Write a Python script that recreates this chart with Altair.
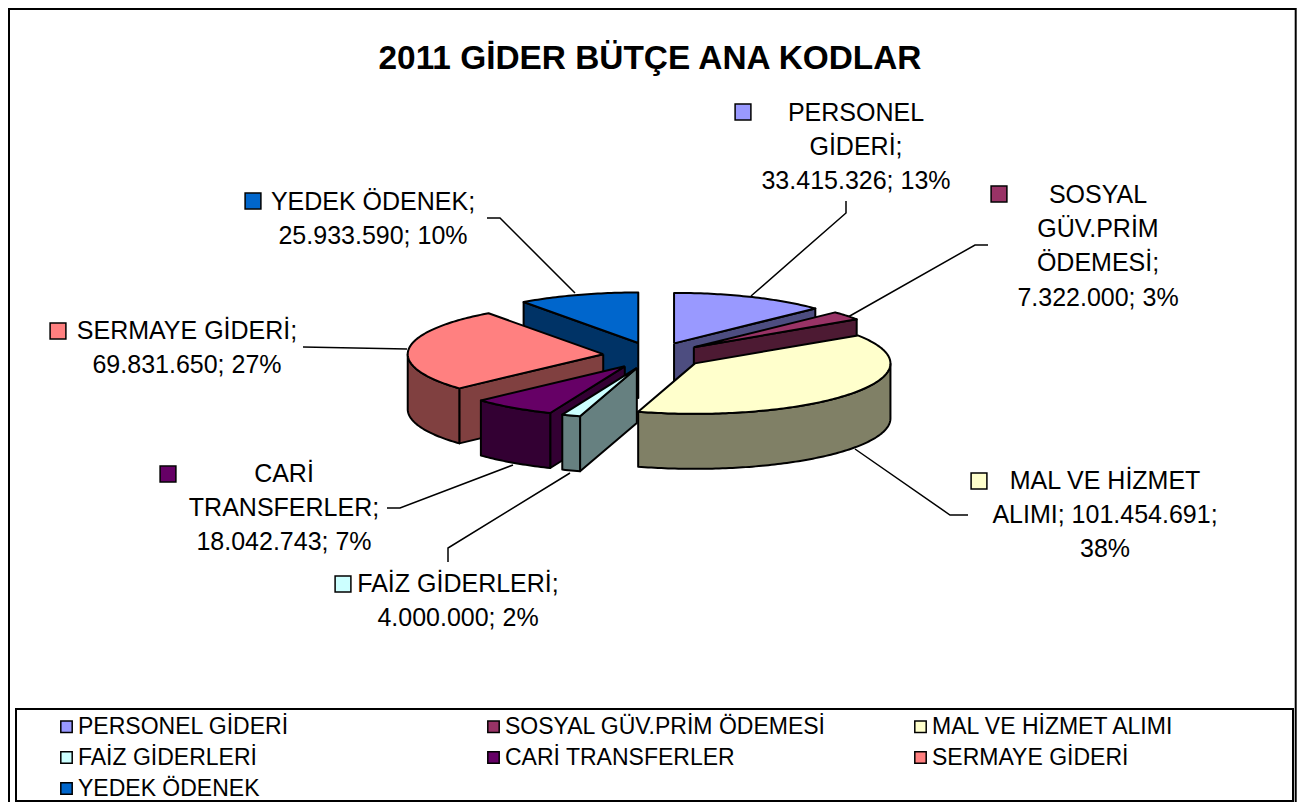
import math
import altair as alt
import pandas as pd

# ---- data -------------------------------------------------------------
names = ["PERSONEL GİDERİ", "SOSYAL GÜV.PRİM ÖDEMESİ", "MAL VE HİZMET ALIMI", "FAİZ GİDERLERİ",
         "CARİ TRANSFERLER", "SERMAYE GİDERİ", "YEDEK ÖDENEK"]
values = [33415326, 7322000, 101454691, 4000000, 18042743, 69831650, 25933590]
top_colors = ["#9999FF", "#993366", "#FFFFCC", "#CCFFFF", "#660066", "#FF8080", "#0066CC"]
side_colors = ["#4D4D80", "#4D1A33", "#808066", "#668080", "#330033", "#804040", "#003366"]
label_lines = [
    ["PERSONEL", "GİDERİ;", "33.415.326; 13%"],
    ["SOSYAL", "GÜV.PRİM", "ÖDEMESİ;", "7.322.000; 3%"],
    ["MAL VE HİZMET", "ALIMI; 101.454.691;", "38%"],
    ["FAİZ GİDERLERİ;", "4.000.000; 2%"],
    ["CARİ", "TRANSFERLER;", "18.042.743; 7%"],
    ["SERMAYE GİDERİ;", "69.831.650; 27%"],
    ["YEDEK ÖDENEK;", "25.933.590; 10%"],
]
title_text = "2011 GİDER BÜTÇE ANA KODLAR"

# ---- layout (reference pixel space) ------------------------------------
W, H = 1289, 794
FONT = "Liberation Sans"
CX, CY, A, B, DEPTH, EXPLODE = 654.0, 355.5, 195.5, 50.5, 55.0, 0.261
paint_order = [6, 0, 1, 5, 4, 3, 2]
label_anchor = [(856, 113), (1098, 195), (1105, 481), (458, 584), (284, 474), (187, 331), (373, 202)]
swatch_pos = [(743, 112), (999, 194), (979, 481), (343, 584), (168, 474), (58, 331), (253, 201)]
line_step = 34.2
leaders = [
    [(751, 296), (846, 213), (846, 201)],
    [(848, 317), (975, 245), (988, 245)],
    [(855, 449), (950, 515), (968, 515)],
    [(570, 473), (448, 548), (448, 562)],
    [(513, 465), (400, 508), (387, 508)],
    [(407, 349), (303, 347)],
    [(575, 293), (500, 218), (487, 218)],
]
frames = [(9, 9, 1295.7, 816), (16, 709, 1293, 801)]

# ---- geometry derived from the values -----------------------------------
total = sum(values)
starts, ang = [], 0.0
for v in values:
    starts.append(ang)
    ang += v / total * 360.0
ends = starts[1:] + [360.0]


def rim(apex, a0, a1):
    n = max(2, int(abs(a1 - a0)) + 1)
    pts = []
    for k in range(n + 1):
        t = math.radians(a0 + (a1 - a0) * k / n)
        pts.append((apex[0] + A * math.sin(t), apex[1] - B * math.cos(t)))
    return pts


rows = []
pid = 0


def add_poly(pts, key, sid):
    global pid
    pts = pts + [pts[0]]
    for s, (x, y) in enumerate(pts):
        rows.append({"poly": f"p{pid:03d}", "seq": s, "x": x, "y": y, "key": key, "kalem": names[sid]})
    pid += 1


for i in paint_order:
    a0, a1 = starts[i], ends[i]
    mid = math.radians((a0 + a1) / 2)
    apex = (CX + A * EXPLODE * math.sin(mid), CY - B * EXPLODE * math.cos(mid))
    side = names[i] + " (yan)"
    # radial wall that faces the viewer
    wall = None
    if math.sin(math.radians(a0)) < -1e-6:
        wall = a0
    elif math.sin(math.radians(a1)) > 1e-6:
        wall = a1
    if wall is not None:
        r = rim(apex, wall, wall)[0]
        add_poly([apex, r, (r[0], r[1] + DEPTH), (apex[0], apex[1] + DEPTH)], side, i)
    # outer wall (front half of the rim)
    f0, f1 = max(a0, 90.0), min(a1, 270.0)
    if f1 > f0:
        edge = rim(apex, f0, f1)
        add_poly(edge + [(x, y + DEPTH) for x, y in reversed(edge)], side, i)
    # top surface
    add_poly([apex] + rim(apex, a0, a1), names[i], i)

poly_df = pd.DataFrame(rows)

text_rows = []
for i, lines in enumerate(label_lines):
    for j, t in enumerate(lines):
        text_rows.append({"x": label_anchor[i][0], "y": label_anchor[i][1] + j * line_step, "t": t,
                          "id": f"{i}-{j}"})
text_df = pd.DataFrame(text_rows)

swatch_df = pd.DataFrame({"x": [p[0] for p in swatch_pos], "y": [p[1] for p in swatch_pos], "key": names})

lead_rows = []
for i, pts in enumerate(leaders):
    for s, (x, y) in enumerate(pts):
        lead_rows.append({"lead": f"l{i}", "seq": s, "x": x, "y": y})
lead_df = pd.DataFrame(lead_rows)

frame_df = pd.DataFrame(frames, columns=["x", "y", "x2", "y2"])

# ---- chart --------------------------------------------------------------
xs = alt.Scale(domain=[8, 8 + W], nice=False, zero=False)
ys = alt.Scale(domain=[8 + H, 8], nice=False, zero=False)
X = alt.X("x:Q", scale=xs, axis=None)
Y = alt.Y("y:Q", scale=ys, axis=None)
color = alt.Color(
    "key:N",
    scale=alt.Scale(domain=names + [n + " (yan)" for n in names], range=top_colors + side_colors),
    legend=alt.Legend(
        values=names, title=None, orient="none", legendX=47, legendY=707, columns=3, gridAlign="all",
        direction="horizontal", columnPadding=83, rowPadding=7, symbolType="square", symbolSize=130,
        symbolStrokeColor="black", symbolStrokeWidth=1.5, labelFont=FONT, labelFontSize=23,
        labelColor="black", labelLimit=500, labelOffset=0, symbolOpacity=1,
    ),
)

frame_layer = alt.Chart(frame_df).mark_rect(fill="white", stroke="black", strokeWidth=2).encode(
    x=X, y=Y, x2="x2:Q", y2="y2:Q")
lead_layer = alt.Chart(lead_df).mark_line(color="black", strokeWidth=1.5).encode(
    x=X, y=Y, detail="lead:N", order="seq:Q")
poly_layer = alt.Chart(poly_df).mark_line(filled=True, stroke="black", strokeWidth=2, strokeJoin="round").encode(
    x=X, y=Y, color=color, detail="poly:N", order="seq:Q", tooltip="kalem:N")
swatch_layer = alt.Chart(swatch_df).mark_square(size=250, stroke="black", strokeWidth=1.5, opacity=1).encode(
    x=X, y=Y, color=color)
text_layer = alt.Chart(text_df).mark_text(font=FONT, fontSize=25, color="black", align="center", baseline="middle").encode(
    x=X, y=Y, text="t:N", detail="id:N")

chart = alt.layer(frame_layer, lead_layer, poly_layer, swatch_layer, text_layer).properties(
    width=W, height=H, padding=0, autosize=alt.AutoSizeParams(type="none"),
    title=alt.TitleParams(title_text, font=FONT, fontSize=33.4, fontWeight="bold", color="black",
                          anchor="middle", offset=-68, dx=-2.5),
).configure_view(stroke=None).configure(background="white")

chart.save("out.html", embed_options={"renderer": "svg", "actions": False})
